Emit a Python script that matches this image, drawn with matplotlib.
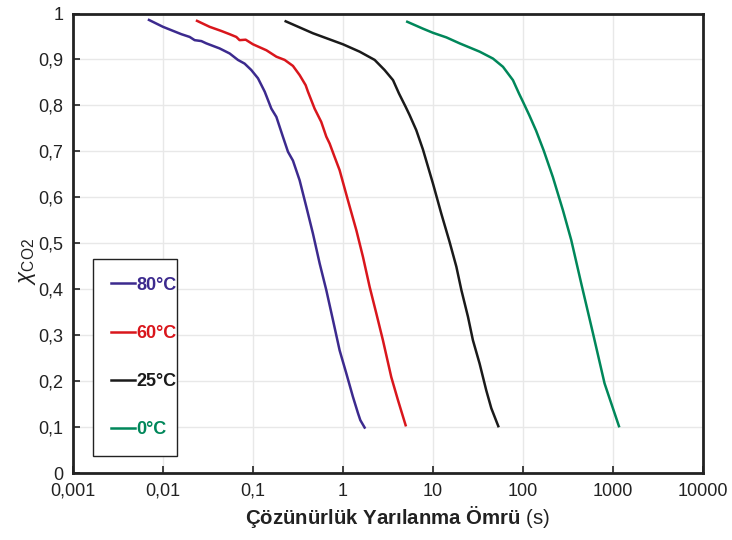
import matplotlib
matplotlib.use("Agg")
import matplotlib.pyplot as plt
from matplotlib.ticker import FixedLocator, FuncFormatter, NullLocator

plt.rcParams['font.family'] = ['Liberation Sans', 'DejaVu Sans']
plt.rcParams['mathtext.fontset'] = 'custom'
plt.rcParams['mathtext.rm'] = 'Liberation Sans'
plt.rcParams['mathtext.it'] = 'Liberation Sans:italic'
plt.rcParams['mathtext.bf'] = 'Liberation Sans:bold'

# 80 °C
t80 = [0.00699, 0.010, 0.016, 0.0198, 0.0225, 0.0267, 0.0303, 0.0426, 0.0551,
       0.068, 0.0807, 0.0958, 0.1137, 0.135, 0.16, 0.182, 0.215, 0.245, 0.278,
       0.33, 0.392, 0.464, 0.551, 0.653, 0.774, 0.918, 1.089, 1.29, 1.47,
       1.56, 1.74]
x80 = [0.986, 0.971, 0.955, 0.949, 0.942, 0.940, 0.935, 0.924, 0.913, 0.899,
       0.891, 0.877, 0.859, 0.830, 0.793, 0.775, 0.732, 0.699, 0.680, 0.637,
       0.579, 0.521, 0.456, 0.398, 0.333, 0.267, 0.217, 0.166, 0.130, 0.115,
       0.099]

# 60 °C
t60 = [0.0239, 0.033, 0.0445, 0.055, 0.0653, 0.071, 0.083, 0.10, 0.141, 0.182,
       0.225, 0.278, 0.33, 0.385, 0.408, 0.484, 0.574, 0.653, 0.711, 0.807,
       0.918, 1.137, 1.41, 1.67, 1.98, 2.35, 2.78, 3.44, 4.08, 4.97]
x60 = [0.984, 0.971, 0.962, 0.955, 0.949, 0.942, 0.943, 0.933, 0.920, 0.906,
       0.899, 0.886, 0.866, 0.844, 0.830, 0.793, 0.764, 0.732, 0.717, 0.688,
       0.659, 0.593, 0.528, 0.470, 0.405, 0.347, 0.289, 0.209, 0.159, 0.104]

# 25 °C
t25 = [0.231, 0.464, 1.0, 1.53, 2.25, 2.9, 3.6, 4.19, 4.97, 5.5, 6.53, 7.74,
       10.0, 12.4, 15.3, 18.2, 20.7, 24.5, 27.8, 33.0, 39.1, 44.5, 53.2]
x25 = [0.983, 0.957, 0.933, 0.917, 0.899, 0.877, 0.855, 0.826, 0.797, 0.779,
       0.746, 0.704, 0.630, 0.564, 0.503, 0.449, 0.398, 0.340, 0.289, 0.238,
       0.180, 0.141, 0.102]

# 0 °C
t0 = [5.18, 7.74, 10.0, 14.1, 19.8, 33.0, 46.4, 60.0, 77.4, 90.3, 100.0,
      118.0, 140.0, 170.0, 215.0, 278.0, 344.0, 445.0, 600.0, 807.0, 1166.0]
x0 = [0.982, 0.967, 0.958, 0.948, 0.935, 0.917, 0.902, 0.884, 0.855, 0.826,
      0.808, 0.778, 0.745, 0.702, 0.644, 0.572, 0.507, 0.412, 0.304, 0.195,
      0.102]

labels = ['80°C', '60°C', '25°C', '0°C']
colors = ['#3C2A8E', '#D9161C', '#1A1A1A', '#00875A']
xticks = [0.001, 0.01, 0.1, 1, 10, 100, 1000, 10000]
xticklabels = ['0,001', '0,01', '0,1', '1', '10', '100', '1000', '10000']

fig = plt.figure(figsize=(7.32, 5.40), dpi=100)
ax = fig.add_axes([0.0997, 0.124, 0.8606, 0.851])

for t, x, lab, c in zip([t80, t60, t25, t0], [x80, x60, x25, x0], labels, colors):
    ax.plot(t, x, color=c, lw=1.8, label=lab)

ax.set_xscale('log')
ax.set_xlim(0.001, 10000)
ax.set_ylim(0, 1)
ax.xaxis.set_major_locator(FixedLocator(xticks))
ax.xaxis.set_minor_locator(NullLocator())
ax.set_xticklabels(xticklabels)
ax.set_yticks([i / 10 for i in range(11)])
ax.yaxis.set_major_formatter(FuncFormatter(
    lambda v, p: '0' if v == 0 else ('1' if v == 1 else f'{v:.1f}'.replace('.', ','))))
ax.tick_params(direction='in', length=5, width=1.2, labelsize=13,
               colors='#222222', pad=7)
ax.grid(True, color='#e8e8e8', lw=1)
ax.set_axisbelow(True)
for s in ax.spines.values():
    s.set_linewidth(2)
    s.set_color('#222222')

fig.text(0.543, 0.018, r'$\mathbf{Çözünürlük\ Yarılanma\ Ömrü}$ (s)', ha='center',
         va='bottom', fontsize=14.7, color='#222222')
ax.set_ylabel(r'$\chi_{\mathrm{CO2}}$', fontsize=16, color='#222222')
ax.yaxis.set_label_coords(-0.055, 0.46)

leg = ax.legend(loc='lower left', bbox_to_anchor=(0.032, 0.037, 0.133, 0.43),
                mode='expand', handlelength=1.3, handletextpad=0.1,
                labelspacing=1.72, fancybox=False, edgecolor='#222222',
                framealpha=1, borderaxespad=0, borderpad=1.0,
                prop={'weight': 'bold', 'size': 13})
leg.get_frame().set_linewidth(1)
for txt, c in zip(leg.get_texts(), colors):
    txt.set_color(c)

fig.savefig('out.png', dpi=100)
